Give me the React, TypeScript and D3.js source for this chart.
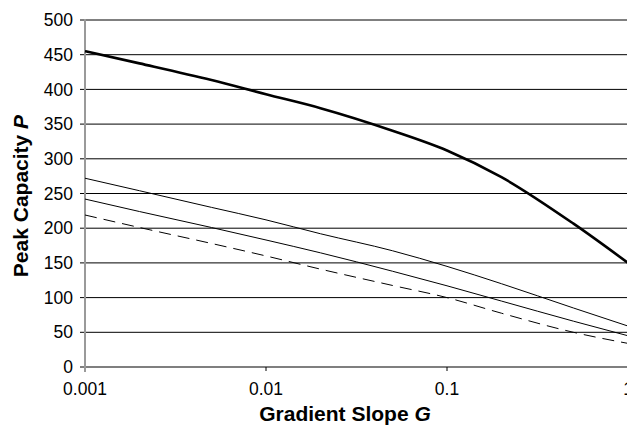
import React from "react";
import * as d3 from "d3";

const gradient = [0.001, 0.002, 0.005, 0.01, 0.02, 0.05, 0.1, 0.2, 0.5, 1];
const seriesThick = [455, 437.5, 413.5, 393, 373, 340.5, 312, 273.5, 206.5, 150];
const seriesThin1 = [272, 254, 230, 212, 192, 167.5, 145, 120, 85, 59];
const seriesThin2 = [242, 224, 201, 183, 164.5, 138, 117, 95, 66, 45];
const seriesDashed = [219, 201, 178, 160, 141, 117.5, 100, 77.5, 50, 34];
const yTicks = [0, 50, 100, 150, 200, 250, 300, 350, 400, 450, 500];
const xTicks = [0.001, 0.01, 0.1, 1];
const xTickLabels = ["0.001", "0.01", "0.1", "1"];

const W = 627;
const H = 435;
const FONT = "Arial, 'Liberation Sans', sans-serif";

export default function App() {
  const x = d3.scaleLog().domain([0.001, 1]).range([85, 628]);
  const y = d3.scaleLinear().domain([0, 500]).range([367, 20]);
  const line = d3
    .line<number>()
    .x((_, i) => x(gradient[i]))
    .y((d) => y(d))
    .curve(d3.curveMonotoneX);

  const series = [
    { data: seriesThin1, w: 1, dash: undefined },
    { data: seriesThin2, w: 1, dash: undefined },
    { data: seriesDashed, w: 1, dash: "12,7" },
    { data: seriesThick, w: 2.6, dash: undefined },
  ];

  return (
    <svg
      width={W}
      height={H}
      style={{ position: "absolute", left: 0, top: 0, background: "#fff" }}
      fontFamily={FONT}
    >
      <rect x={0} y={0} width={W} height={H} fill="#fff" />
      {yTicks.slice(1).map((t) => (
        <line key={t} x1={85} x2={628} y1={y(t)} y2={y(t)} stroke="#000" strokeWidth={1} />
      ))}
      {yTicks.map((t) => (
        <g key={"yt" + t}>
          <line x1={80} x2={85} y1={y(t)} y2={y(t)} stroke="#000" strokeWidth={1} />
          <text x={73} y={y(t)} dy="0.35em" textAnchor="end" fontSize={17.5} fill="#000">
            {t}
          </text>
        </g>
      ))}
      {xTicks.map((t, i) => (
        <g key={"xt" + t}>
          <line x1={x(t)} x2={x(t)} y1={367} y2={371} stroke="#000" strokeWidth={1} />
          <text x={x(t)} y={395} textAnchor="middle" fontSize={17.5} fill="#000">
            {xTickLabels[i]}
          </text>
        </g>
      ))}
      <line x1={85} x2={628} y1={y(0)} y2={y(0)} stroke="#000" strokeWidth={1.2} />
      <line x1={85} x2={85} y1={19} y2={372} stroke="#9a9a9a" strokeWidth={2} />
      {series.map((s, i) => (
        <path
          key={i}
          d={line(s.data) || ""}
          fill="none"
          stroke="#000"
          strokeWidth={s.w}
          strokeDasharray={s.dash}
        />
      ))}
      <text x={345} y={420.5} textAnchor="middle" fontSize={21} fontWeight="bold" fill="#000">
        Gradient Slope <tspan fontStyle="italic">G</tspan>
      </text>
      <text
        transform="translate(28,196) rotate(-90)"
        textAnchor="middle"
        fontSize={21}
        fontWeight="bold"
        fill="#000"
      >
        Peak Capacity <tspan fontStyle="italic">P</tspan>
      </text>
    </svg>
  );
}
